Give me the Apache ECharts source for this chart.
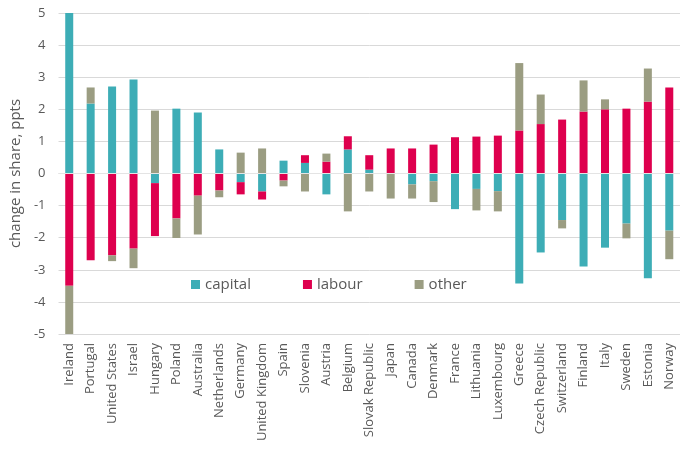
<!DOCTYPE html>
<html>
<head>
<meta charset="utf-8">
<script src="https://cdn.jsdelivr.net/npm/echarts@6/dist/echarts.min.js"></script>
<style>html,body{margin:0;padding:0;background:#fff}#c{width:696px;height:449px}</style>
</head>
<body>
<div id="c"></div>
<script>
const categories = ["Ireland","Portugal","United States","Israel","Hungary","Poland","Australia","Netherlands","Germany","United Kingdom","Spain","Slovenia","Austria","Belgium","Slovak Republic","Japan","Canada","Denmark","France","Lithuania","Luxembourg","Greece","Czech Republic","Switzerland","Finland","Italy","Sweden","Estonia","Norway"];
const capital = [5.0,2.18,2.71,2.93,-0.30,2.02,1.90,0.75,-0.27,-0.56,0.40,0.33,-0.65,0.75,0.12,0,-0.34,-0.24,-1.11,-0.48,-0.55,-3.43,-2.46,-1.45,-2.90,-2.31,-1.56,-3.26,-1.78];
const labour = [-3.5,-2.70,-2.55,-2.34,-1.65,-1.40,-0.69,-0.53,-0.38,-0.25,-0.22,0.24,0.37,0.41,0.45,0.78,0.78,0.90,1.13,1.15,1.18,1.34,1.54,1.68,1.93,2.00,2.02,2.24,2.68];
const other = [-1.5,0.50,-0.18,-0.61,1.96,-0.61,-1.21,-0.21,0.65,0.78,-0.18,-0.56,0.25,-1.18,-0.56,-0.78,-0.44,-0.65,0,-0.67,-0.63,2.10,0.92,-0.26,0.97,0.31,-0.46,1.03,-0.89];
const yTicks = {min:-5, max:5, interval:1};

const font = '"Open Sans", "DejaVu Sans", sans-serif';
const chart = echarts.init(document.getElementById('c'), null, {renderer:'canvas'});
function s(name, data, color, extra) {
  return Object.assign({
    name, type:'bar', stack:'total', data, barWidth:8,
    itemStyle:{color}, emphasis:{disabled:true}, animation:false
  }, extra||{});
}
chart.setOption({
  animation:false,
  textStyle:{fontFamily:font},
  grid:{left:57, right:16, top:13, bottom:115, containLabel:false},
  legend:{
    data:['capital','labour','other'], left:186, top:272,
    itemWidth:9, itemHeight:9, itemGap:52, icon:'rect',
    textStyle:{fontSize:15, color:'#595959', fontFamily:font}
  },
  xAxis:{
    type:'category', data:categories,
    axisLine:{show:false}, axisTick:{show:false},
    axisLabel:{rotate:90, interval:0, fontSize:13, color:'#595959', margin:9, fontFamily:font}
  },
  yAxis:{
    type:'value', min:yTicks.min, max:yTicks.max, interval:yTicks.interval,
    name:'change in share, ppts', nameLocation:'middle', nameGap:30,
    nameTextStyle:{fontSize:15, color:'#595959', fontFamily:font},
    axisLabel:{fontSize:13, color:'#595959', margin:13, fontFamily:font},
    axisLine:{show:false}, axisTick:{show:false},
    splitLine:{lineStyle:{color:'#D9D9D9', width:1}}
  },
  series:[
    s('capital', capital, '#3DADB6'),
    s('labour', labour, '#DE004E'),
    s('other', other, '#9B9D82', {
      markLine:{silent:true, symbol:'none', label:{show:false},
        lineStyle:{color:'#E4E4E4', width:1, type:'solid'}, data:[{yAxis:0}], animation:false}
    })
  ]
});
</script>
</body>
</html>
